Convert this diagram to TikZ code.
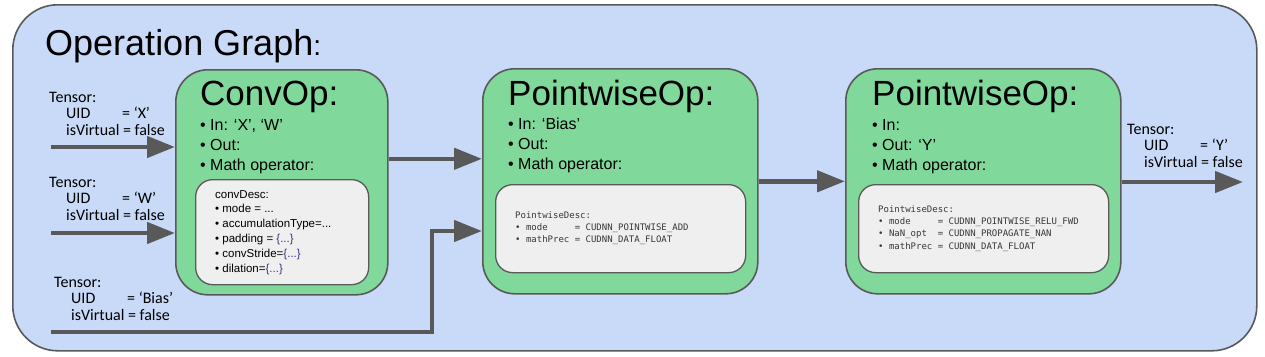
\documentclass[tikz,border=0pt]{standalone}
\usepackage{fontspec}
\setmainfont{Liberation Sans}
\setmonofont{DejaVu Sans Mono}
\newfontfamily\lblfont{Carlito}
\usetikzlibrary{arrows.meta,positioning}

\definecolor{graphbg}{HTML}{C9DAF8}
\definecolor{opgreen}{HTML}{80D89B}
\definecolor{descgray}{HTML}{EFEFEF}
\definecolor{edgegray}{HTML}{595959}
\definecolor{monogray}{HTML}{383838}
\definecolor{bracepurple}{HTML}{4A2C86}

% tensor label: uid
\newcommand{\tensorinfo}[1]{%
  \begin{tabular}[t]{@{}l@{}}
    Tensor:\\
    \hspace{17pt}\makebox[56pt][l]{UID}= #1\\
    \hspace{17pt}isVirtual = false
  \end{tabular}}
\newcommand{\brc}[1]{\textcolor{bracepurple}{\{#1\}}}

\begin{document}
\begin{tikzpicture}[x=1pt,y=-1pt,
    graphbox/.style={draw=edgegray, line width=1.6pt, fill=graphbg, rounded corners=45pt, anchor=north west, inner sep=0},
    opbox/.style={draw=edgegray, line width=1.6pt, fill=opgreen, rounded corners=32pt, anchor=north west, inner sep=0},
    descbox/.style={draw=edgegray, line width=1.3pt, fill=descgray, rounded corners=17pt, anchor=north west, inner sep=0},
    txt/.style={anchor=base west, inner sep=0},
    optitle/.style={txt, font=\fontsize{35}{40}\selectfont},
    opitems/.style={txt, font=\fontsize{16}{20}\selectfont},
    convitems/.style={txt, font=\fontsize{11.5}{14.8}\selectfont},
    monoitems/.style={txt, text=monogray, font=\ttfamily\fontsize{9}{12.4}\selectfont},
    tensorlbl/.style={txt, font=\lblfont\fontsize{16}{16.6}\selectfont},
    flow/.style={draw=edgegray, line width=4.6pt, -{Triangle[length=28pt,width=21pt]}}
  ]
  \useasboundingbox (0,0) rectangle (1265,356);

  % outer graph box
  \node[graphbox, minimum width=1244pt, minimum height=346pt] (graph) at (12,4) {};
  \node[txt, font=\fontsize{36}{40}\selectfont] (graphtitle) at (45,55)
    {Operation Graph{\fontsize{28}{30}\selectfont:}};

  % operation boxes
  \node[opbox, minimum width=212pt, minimum height=225pt] (convop) at (175,69) {};
  \node[opbox, minimum width=275pt, minimum height=225pt] (pw1) at (482,68) {};
  \node[opbox, minimum width=275pt, minimum height=225pt] (pw2) at (845,68) {};

  \node[descbox, minimum width=173pt, minimum height=105pt] (convdesc) at (195,179) {};
  \node[descbox, minimum width=250pt, minimum height=88pt] (pw1desc) at (495,184) {};
  \node[descbox, minimum width=250pt, minimum height=88pt] (pw2desc) at (858,184) {};

  % ConvOp
  \node[optitle] (convtitle) at (200,105) {ConvOp:};
  \node[opitems] (convlist) at (200,130) {\begin{tabular}[t]{@{}l@{}}
      • In: ‘X’, ‘W’\\ • Out:\\ • Math operator:\end{tabular}};
  \node[convitems] (convtext) at (215,198) {\begin{tabular}[t]{@{}l@{}}
      convDesc:\\
      • mode = ...\\
      • accumulationType=...\\
      • padding = \brc{...}\\
      • convStride=\brc{...}\\
      • dilation=\brc{...}\end{tabular}};

  % first PointwiseOp
  \node[optitle] (pw1title) at (508,105) {PointwiseOp:};
  \node[opitems] (pw1list) at (508,129) {\begin{tabular}[t]{@{}l@{}}
      • In: ‘Bias’\\ • Out:\\ • Math operator:\end{tabular}};
  \node[monoitems] (pw1text) at (515,218) {\begin{tabular}[t]{@{}l@{}}
      PointwiseDesc:\\
      • mode~~~~~= CUDNN\_POINTWISE\_ADD\\
      • mathPrec = CUDNN\_DATA\_FLOAT\end{tabular}};

  % second PointwiseOp
  \node[optitle] (pw2title) at (872,105) {PointwiseOp:};
  \node[opitems] (pw2list) at (872,130) {\begin{tabular}[t]{@{}l@{}}
      • In:\\ • Out: ‘Y’\\ • Math operator:\end{tabular}};
  \node[monoitems] (pw2text) at (878,212) {\begin{tabular}[t]{@{}l@{}}
      PointwiseDesc:\\
      • mode~~~~~= CUDNN\_POINTWISE\_RELU\_FWD\\
      • NaN\_opt~~= CUDNN\_PROPAGATE\_NAN\\
      • mathPrec = CUDNN\_DATA\_FLOAT\end{tabular}};

  % tensors
  \node[tensorlbl] (tensorX) at (49,102) {\tensorinfo{‘X’}};
  \node[tensorlbl] (tensorW) at (49,187) {\tensorinfo{‘W’}};
  \node[tensorlbl] (tensorB) at (54,287) {\tensorinfo{‘Bias’}};
  \node[tensorlbl] (tensorY) at (1127,134) {\tensorinfo{‘Y’}};

  % connectors
  \coordinate (srcX) at (51,147);
  \coordinate (srcW) at (51,233);
  \coordinate (srcB) at (51,332);
  \coordinate (bendB) at (432,231);
  \coordinate (sinkY) at (1243,182);

  \draw[flow] (srcX) -- (srcX -| convop.west);
  \draw[flow] (srcW) -- (srcW -| convop.west);
  \draw[flow] (srcB) -| (bendB) -- (bendB -| pw1.west);
  \draw[flow] ([yshift=23.5pt]convop.east) -- ([yshift=23.5pt]convop.east -| pw1.west);
  \draw[flow] (pw1.east) -- (pw2.west);
  \draw[flow] (pw2.east |- sinkY) -- (sinkY);
\end{tikzpicture}
\end{document}
